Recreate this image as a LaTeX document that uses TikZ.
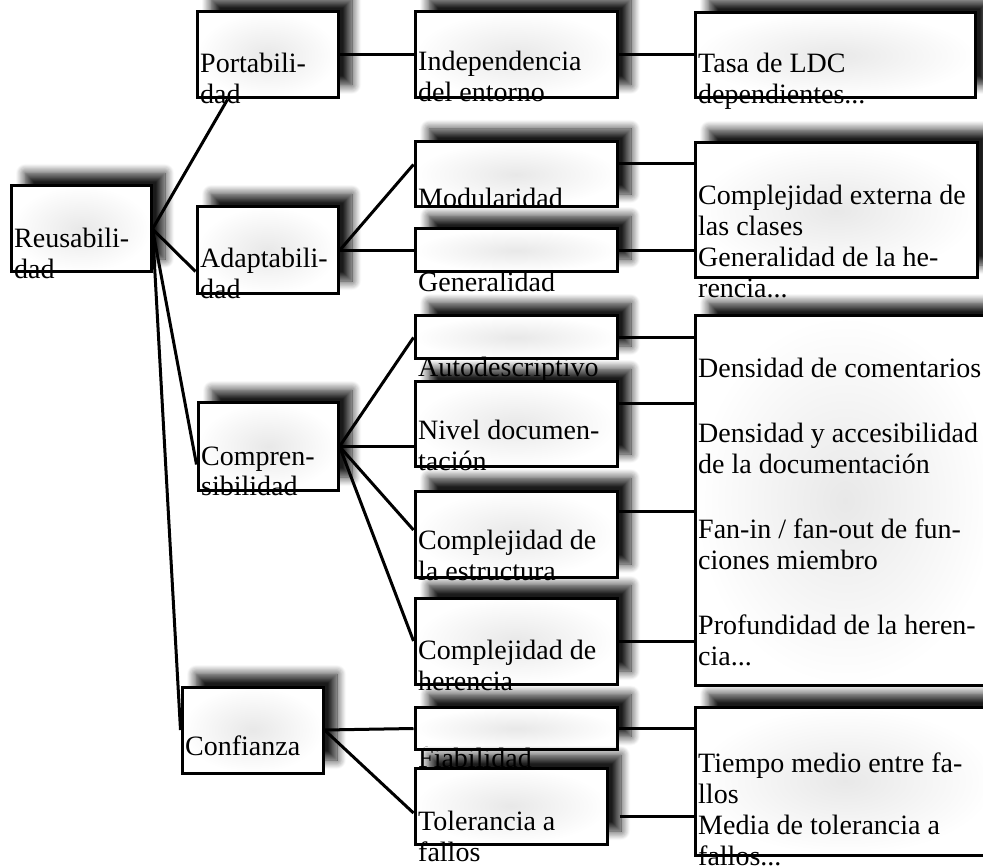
\documentclass[tikz,border=0pt]{standalone}
\usepackage{fontspec}
\setmainfont{Liberation Serif}
\usepackage{tikz}
\usetikzlibrary{shadows.blur}

\begin{document}
\begin{tikzpicture}[x=1pt, y=-1pt,
box/.style = {draw, line width=3pt, inner sep=0pt, inner color=black!9, outer color=white,
  blur shadow={shadow xshift=14pt, shadow yshift=13pt, shadow blur radius=9pt, shadow blur steps=10, shadow opacity=90}},
txt/.style = {anchor=base west, align=left, inner sep=0pt, font=\fontsize{28}{31}\selectfont},
link/.style = {line width=3pt}]
\useasboundingbox (0,0) rectangle (983,866);
\node[box, minimum width=140pt, minimum height=86pt](reus) at (81,229){};
\node[txt](reus-t) at (14,279){Reusabili-\\dad};
\node[box, minimum width=141pt, minimum height=86pt](port) at (267.5,55){};
\node[txt](port-t) at (200,104){Portabili-\\dad};
\node[box, minimum width=141pt, minimum height=87pt](adapt) at (267.5,250.5){};
\node[txt](adapt-t) at (200,299){Adaptabili-\\dad};
\node[box, minimum width=140pt, minimum height=87pt](compr) at (268,446.5){};
\node[txt](compr-t) at (201,496){Compren-\\sibilidad};
\node[box, minimum width=141pt, minimum height=86pt](conf) at (252.5,730){};
\node[txt](conf-t) at (185,755){Confianza};
\node[box, minimum width=202pt, minimum height=86pt](indep) at (516,55){};
\node[txt](indep-t) at (418,102){Independencia\\del entorno};
\node[box, minimum width=202pt, minimum height=65pt](modul) at (516,174.5){};
\node[txt](modul-t) at (418,208){Modularidad};
\node[box, minimum width=202pt, minimum height=43pt](gener) at (516,250.5){};
\node[txt](gener-t) at (418,292){Generalidad};
\node[box, minimum width=202pt, minimum height=43pt](autod) at (516,337.5){};
\node[txt](autod-t) at (418,377){Autodescriptivo};
\node[box, minimum width=202pt, minimum height=85pt](nivel) at (516,424.5){};
\node[txt](nivel-t) at (418,471){Nivel documen-\\tación};
\node[box, minimum width=202pt, minimum height=86pt](cestr) at (516,534){};
\node[txt](cestr-t) at (418,580){Complejidad de\\la estructura};
\node[box, minimum width=202pt, minimum height=86pt](cher) at (516,641){};
\node[txt](cher-t) at (418,690){Complejidad de\\herencia};
\node[box, minimum width=202pt, minimum height=42pt](fiab) at (516,728.5){};
\node[txt](fiab-t) at (418,767){Fiabilidad};
\node[box, minimum width=192pt, minimum height=76pt](toler) at (511,806){};
\node[txt](toler-t) at (418,861){Tolerancia a\\fallos};
\node[box, minimum width=280pt, minimum height=85pt](tasa) at (835,55.5){};
\node[txt](tasa-t) at (698,104){Tasa de LDC\\dependientes...};
\node[box, minimum width=282pt, minimum height=135pt](cext) at (836,210.5){};
\node[txt](cext-t) at (698,298){Complejidad externa de\\las clases\\Generalidad de la he-\\rencia...};
\node[box, minimum width=300pt, minimum height=369pt](metr) at (845,500.5){};
\node[txt](metr-t) at (698,665){Densidad de comentarios\\[34pt]Densidad y accesibilidad\\de la documentación\\[34pt]Fan-in / fan-out de fun-\\ciones miembro\\[34pt]Profundidad de la heren-\\cia...};
\node[box, minimum width=300pt, minimum height=148pt](tiempo) at (845,781){};
\node[txt](tiempo-t) at (698,865){Tiempo medio entre fa-\\llos\\Media de tolerancia a\\fallos...};
\draw[link] (reus.east) -- ([xshift=-40pt]port.south);
\draw[link] (reus.east) -- ([yshift=-21pt]adapt.west);
\draw[link] (reus.east) -- ([yshift=-18pt]compr.west);
\draw[link] (reus.east) -- (conf.west);
\draw[link] (port.east) -- (indep.west);
\draw[link] (indep.east) -- (indep.east -| tasa.west);
\draw[link] (adapt.east) -- ([yshift=10pt]modul.west);
\draw[link] (adapt.east) -- (gener.west);
\draw[link] ([yshift=11pt]modul.east) coordinate (m1) -- (m1 -| cext.west);
\draw[link] (gener.east) -- (gener.east -| cext.west);
\draw[link] (compr.east) -- (autod.west);
\draw[link] (compr.east) -- (compr.east -| nivel.west);
\draw[link] (compr.east) -- ([yshift=4pt]cestr.west);
\draw[link] (compr.east) -- (cher.west);
\draw[link] (autod.east) -- (autod.east -| metr.west);
\draw[link] ([yshift=21pt]nivel.east) coordinate (n1) -- (n1 -| metr.west);
\draw[link] ([yshift=23pt]cestr.east) coordinate (c1) -- (c1 -| metr.west);
\draw[link] (cher.east) -- (cher.east -| metr.west);
\draw[link] (conf.east) -- (fiab.west);
\draw[link] (conf.east) -- ([yshift=-7pt]toler.west);
\draw[link] (fiab.east) -- (fiab.east -| tiempo.west);
\draw[link] ([shift={(11pt,-10pt)}]toler.east) coordinate (t1) -- (t1 -| tiempo.west);
\end{tikzpicture}
\end{document}
